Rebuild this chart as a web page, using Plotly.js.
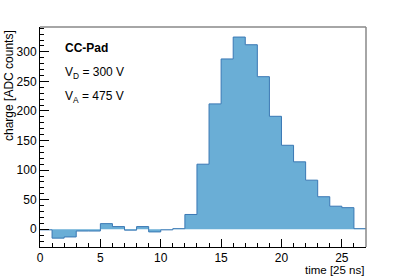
<!DOCTYPE html>
<html>
<head>
<meta charset="utf-8">
<script src="https://cdn.plot.ly/plotly-3.0.1.min.js"></script>
<style>html,body{margin:0;padding:0;background:#fff;}#chart{width:407px;height:276px;}</style>
</head>
<body>
<div id="chart"></div>
<script>
// bin lower edges (time in 25 ns units) and charge values
const binEdges = [0,1,2,3,4,5,6,7,8,9,10,11,12,13,14,15,16,17,18,19,20,21,22,23,24,25,26,27];
const charge   = [-1,-15,-13,-3,-3,9.5,4.5,-1.5,4.5,-4.5,-1,1,25,110,212,288,325,312,258,191,142,114,83,55,39,36.5,1];
const xTicks = [0,5,10,15,20,25];
const yTicks = [0,50,100,150,200,250,300];

// step path: repeat last value at final edge
const xs = binEdges.slice();
const ys = charge.concat([charge[charge.length-1]]);

const font = "Liberation Sans, Arial, Helvetica, sans-serif";

const trace = {
  type: 'scatter', mode: 'lines',
  x: xs, y: ys,
  line: {shape: 'hv', color: '#3a78b4', width: 1},
  fill: 'tozeroy', fillcolor: '#6aaed6',
  hoverinfo: 'skip'
};

const layout = {
  width: 407, height: 276,
  margin: {l: 40, r: 41, t: 27, b: 29},
  paper_bgcolor: '#fff', plot_bgcolor: '#fff',
  showlegend: false,
  font: {family: font, size: 12, color: '#000'},
  xaxis: {
    range: [0, 27], tickvals: xTicks, ticktext: xTicks.map(String),
    ticks: 'inside', ticklen: 8, tickcolor: '#000', tickwidth: 1,
    minor: {dtick: 1, tick0: 0, ticks: 'inside', ticklen: 4, tickcolor: '#000', showgrid: false},
    showline: true, linecolor: '#000', linewidth: 1,
    showgrid: false, zeroline: false,
    tickfont: {family: font, size: 12, color: '#000'}
  },
  yaxis: {
    range: [-30, 342], tickvals: yTicks, ticktext: yTicks.map(String),
    ticks: 'inside', ticklen: 9, tickcolor: '#000', tickwidth: 1,
    minor: {dtick: 10, tick0: 0, ticks: 'inside', ticklen: 4, tickcolor: '#000', showgrid: false},
    showline: true, linecolor: '#000', linewidth: 1,
    showgrid: false, zeroline: false,
    tickfont: {family: font, size: 12, color: '#000'}
  },
  shapes: [
    {type: 'line', xref: 'paper', yref: 'paper', x0: 0, x1: 1, y0: 1, y1: 1, line: {color: '#888', width: 1.5}},
    {type: 'line', xref: 'paper', yref: 'paper', x0: 1, x1: 1, y0: 0, y1: 1, line: {color: '#888', width: 1.5}}
  ],
  annotations: [
    {text: 'charge [ADC counts]', xref: 'paper', yref: 'paper', x: -0.093, y: 0.735,
     xanchor: 'center', yanchor: 'middle', textangle: -90, showarrow: false,
     font: {family: font, size: 12, color: '#000'}},
    {text: 'time [25 ns]', xref: 'paper', yref: 'paper', x: 1, y: -0.103,
     xanchor: 'right', yanchor: 'middle', showarrow: false,
     font: {family: font, size: 11.5, color: '#000'}},
    {text: '<b>CC-Pad</b>', xref: 'paper', yref: 'paper', x: 0.072, y: 0.905,
     xanchor: 'left', yanchor: 'middle', showarrow: false,
     font: {family: font, size: 12, color: '#000'}},
    {text: 'V<sub>D</sub> = 300 V', xref: 'paper', yref: 'paper', x: 0.072, y: 0.79,
     xanchor: 'left', yanchor: 'middle', showarrow: false,
     font: {family: font, size: 12, color: '#000'}},
    {text: 'V<sub>A</sub> = 475 V', xref: 'paper', yref: 'paper', x: 0.072, y: 0.68,
     xanchor: 'left', yanchor: 'middle', showarrow: false,
     font: {family: font, size: 12, color: '#000'}}
  ]
};

Plotly.newPlot('chart', [trace], layout, {staticPlot: true, displayModeBar: false});
</script>
</body>
</html>
